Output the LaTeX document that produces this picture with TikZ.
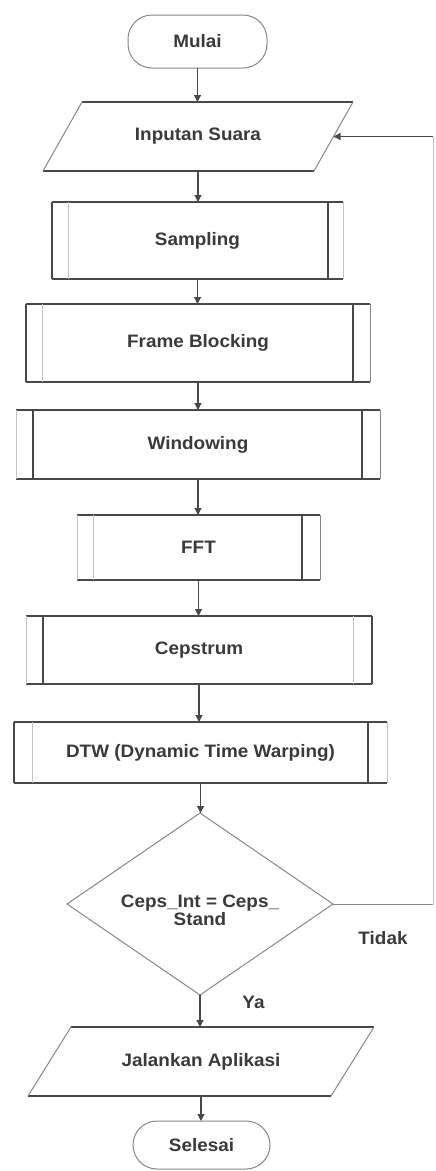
\documentclass[tikz,border=0pt]{standalone}
\usepackage{fontspec}
\setmainfont{Liberation Sans}[FakeStretch=1.05]
\usetikzlibrary{arrows.meta,calc}

\definecolor{ink}{RGB}{58,58,58}
\definecolor{lnD}{RGB}{72,72,72}
\definecolor{lnM}{RGB}{135,135,135}
\definecolor{lnF}{RGB}{195,195,195}

\tikzset{
  dk/.style={draw=lnD,line width=1.1pt},
  md/.style={draw=lnM,line width=1pt},
  ft/.style={draw=lnF,line width=1pt},
  lbl/.style={font=\fontsize{18}{15}\selectfont\bfseries, text=ink},
  plain/.style={lbl, inner sep=0pt, outer sep=0pt, rectangle},
  term/.style={plain, md, rounded corners=24pt},
  flow/.style={dk, -{Triangle[length=7pt,width=7pt]}}
}

% predefined-process box: name, inner left offset, inner right offset,
% styles of outer left, inner left, inner right, outer right lines
\newcommand{\drawproc}[7]{%
  \draw[dk] (#1.north west) -- (#1.north east);
  \draw[dk] (#1.south west) -- (#1.south east);
  \draw[#4] (#1.north west) -- (#1.south west);
  \draw[#5] ([xshift=#2pt]#1.north west) -- ([xshift=#2pt]#1.south west);
  \draw[#6] ([xshift=-#3pt]#1.north east) -- ([xshift=-#3pt]#1.south east);
  \draw[#7] (#1.north east) -- (#1.south east);
}

\begin{document}
\begin{tikzpicture}[x=1pt,y=-1pt]
\fill[white] (0,0) rectangle (436,1171);
\useasboundingbox (0,0) rectangle (436,1171);

% start
\node[term, minimum width=139pt, minimum height=53pt] (mulai) at (197.5,41.5) {Mulai};

% input
\node[plain, minimum width=271pt, minimum height=69pt] (inp) at (198,136.5) {Inputan Suara};
\draw[dk] ([xshift=19.5pt]inp.north west) -- ([xshift=19.5pt]inp.north east);
\draw[dk] ([xshift=-19.5pt]inp.south west) -- ([xshift=-19.5pt]inp.south east);
\draw[md] ([xshift=19.5pt]inp.north west) -- ([xshift=-19.5pt]inp.south west);
\draw[md] ([xshift=19.5pt]inp.north east) -- ([xshift=-19.5pt]inp.south east);

% processing stages
\node[plain, minimum width=291pt, minimum height=77pt] (smp) at (197.5,240.5) {Sampling};
\drawproc{smp}{16}{15}{dk}{ft}{dk}{ft}

\node[plain, minimum width=344pt, minimum height=78pt] (frm) at (198,343) {Frame Blocking};
\drawproc{frm}{16}{17}{dk}{ft}{dk}{md}

\node[plain, minimum width=364pt, minimum height=69pt] (win) at (198,444.5) {Windowing};
\drawproc{win}{17}{18}{ft}{dk}{dk}{md}

\node[plain, minimum width=243pt, minimum height=65pt] (fft) at (198.5,547.5) {FFT};
\drawproc{fft}{16}{18}{ft}{ft}{dk}{md}

\node[plain, minimum width=346pt, minimum height=68pt] (cep) at (199,650) {Cepstrum};
\drawproc{cep}{17}{19}{ft}{dk}{ft}{dk}

\node[plain, minimum width=373pt, minimum height=61pt] (dtw) at (200.5,752.5) {DTW (Dynamic Time Warping)};
\drawproc{dtw}{18}{19}{dk}{ft}{dk}{ft}

% decision
\node[plain, minimum width=266pt, minimum height=182pt] (dec) at (200,904) {};
\draw[md] (dec.north) -- (dec.east) -- (dec.south) -- (dec.west) -- cycle;
\node[lbl, align=center] (dectxt) at (200,910) {Ceps\_Int = Ceps\_\\Stand};

% output
\node[plain, minimum width=303pt, minimum height=69pt] (jal) at (201,1061.5) {Jalankan Aplikasi};
\draw[dk] ([xshift=21.5pt]jal.north west) -- ([xshift=21.5pt]jal.north east);
\draw[dk] ([xshift=-21.5pt]jal.south west) -- ([xshift=-21.5pt]jal.south east);
\draw[md] ([xshift=21.5pt]jal.north west) -- ([xshift=-21.5pt]jal.south west);
\draw[md] ([xshift=21.5pt]jal.north east) -- ([xshift=-21.5pt]jal.south east);

% end
\node[term, minimum width=137pt, minimum height=48pt] (sel) at (201.5,1145) {Selesai};

% main flow
\draw[flow] (mulai.south) -- (mulai.south |- inp.north);
\draw[flow] (inp.south) -- (inp.south |- smp.north);
\draw[flow] (smp.south) -- (smp.south |- frm.north);
\draw[flow] (frm.south) -- (frm.south |- win.north);
\draw[flow] (win.south) -- (win.south |- fft.north);
\draw[flow] (fft.south) -- (fft.south |- cep.north);
\draw[flow] (cep.south) -- (cep.south |- dtw.north);
\draw[flow] (dtw.south) -- (dtw.south |- dec.north);
\draw[flow] (dec.south) -- (dec.south |- jal.north);
\draw[flow] (jal.south) -- (jal.south |- sel.north);
\node[lbl] (ya) at (253.5,1002) {Ya};

% loop back when the match fails
\coordinate (loopX) at (433,0);
\coordinate (loopB) at (dec.east -| loopX);
\coordinate (loopT) at (inp.east -| loopX);
\draw[md] (dec.east) -- (loopB);
\draw[ft] (loopB) -- (loopT);
\draw[flow] (loopT) -- (inp.east);
\node[lbl] (tidak) at (383,938) {Tidak};
\end{tikzpicture}
\end{document}
